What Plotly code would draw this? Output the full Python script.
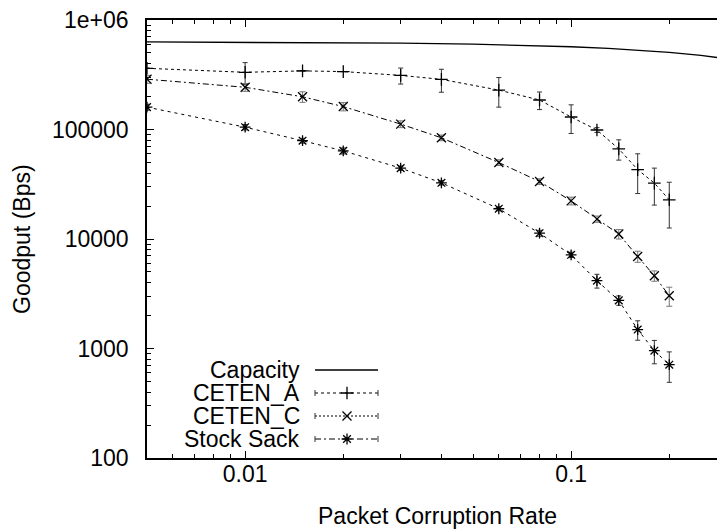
import plotly.graph_objects as go

# ---------------- data ----------------
rates = [0.005, 0.01, 0.015, 0.02, 0.03, 0.04, 0.06, 0.08, 0.1, 0.12, 0.14, 0.16, 0.18, 0.2]

ceten_a = [362000, 333000, 343000, 338000, 312000, 287000, 229000, 186000, 130000, 99000, 66500, 43000, 32400, 22800]
ceten_a_err = [0, 75000, 0, 0, 52000, 68000, 69000, 34000, 38000, 5000, 14000, 17000, 12000, 10200]

ceten_c = [288000, 243000, 199000, 162000, 112000, 84000, 49900, 33500, 22300, 15200, 11100, 6930, 4610, 3030]
ceten_c_err = [24000, 20000, 22000, 14000, 8000, 5000, 3000, 2000, 1800, 1000, 1100, 800, 500, 600]

stock_sack = [160000, 105000, 79000, 63800, 44400, 32600, 18900, 11300, 7170, 4160, 2750, 1490, 955, 711]
stock_sack_err = [10000, 6000, 4000, 4000, 2000, 1500, 800, 700, 400, 600, 270, 300, 230, 220]

capacity_x = [0.005, 0.01, 0.02, 0.03, 0.05, 0.07, 0.1, 0.13, 0.16, 0.2, 0.25, 0.3]
capacity_y = [630000, 627000, 620000, 614000, 601000, 589000, 570000, 551000, 532000, 506000, 475000, 443000]

legend_names = ["Capacity", "CETEN_A", "CETEN_C", "Stock Sack"]

# minor tick positions (log axes: 2..9 within each decade)
x_minor_ticks = [0.005, 0.006, 0.007, 0.008, 0.009,
                 0.02, 0.03, 0.04, 0.05, 0.06, 0.07, 0.08, 0.09,
                 0.2, 0.3]
y_minor_ticks = [200, 300, 400, 500, 600, 700, 800, 900,
                 2000, 3000, 4000, 5000, 6000, 7000, 8000, 9000,
                 20000, 30000, 40000, 50000, 60000, 70000, 80000, 90000,
                 200000, 300000, 400000, 500000, 600000, 700000, 800000, 900000]

# ---------------- style ----------------
FONT = "Liberation Sans, Arial, Helvetica, sans-serif"
FS = 23
BLACK = "black"
ERRC = "#333333"

fig = go.Figure()

fig.add_trace(go.Scatter(
    x=capacity_x, y=capacity_y, mode="lines",
    line=dict(color=BLACK, width=1.3), showlegend=False, hoverinfo="skip"))

fig.add_trace(go.Scatter(
    x=rates, y=ceten_a, mode="lines+markers",
    line=dict(color=BLACK, width=1, dash="3px,3px"),
    marker=dict(symbol="cross-thin", size=9, line=dict(color=BLACK, width=1.3)),
    error_y=dict(type="data", array=ceten_a_err, color=ERRC, thickness=1, width=2.5),
    showlegend=False))

fig.add_trace(go.Scatter(
    x=rates, y=ceten_c, mode="lines+markers",
    line=dict(color=BLACK, width=1, dash="6px,3px,2px,3px"),
    marker=dict(symbol="x-thin", size=9, line=dict(color=BLACK, width=1.3)),
    error_y=dict(type="data", array=ceten_c_err, color="#777777", thickness=1, width=3),
    showlegend=False))

fig.add_trace(go.Scatter(
    x=rates, y=stock_sack, mode="lines+markers",
    line=dict(color=BLACK, width=1, dash="3px,4px"),
    marker=dict(symbol="asterisk", size=9, line=dict(color=BLACK, width=1.3)),
    error_y=dict(type="data", array=stock_sack_err, color=ERRC, thickness=1, width=2.5),
    showlegend=False))

# ---------------- manual legend (text left, sample right) on a pixel overlay axis ----------------
L, T, B = 147, 20, 458
W, H = 717, 531
rows = [370, 393, 416, 439]
text_right = 301
s0, s1, smid = 315, 378, 347
sample_dash = [None, "3px,3px", "2px,2px", "6px,3px,2px,3px"]
sample_sym = [None, "cross-thin", "x-thin", "asterisk"]

for i, name in enumerate(legend_names):
    fig.add_annotation(xref="x2", yref="y2", x=text_right, y=rows[i], text=name,
                       showarrow=False, xanchor="right", yanchor="middle", borderpad=0,
                       font=dict(family=FONT, size=FS, color=BLACK))
    fig.add_shape(type="line", xref="x2", yref="y2", x0=s0, x1=s1, y0=rows[i], y1=rows[i],
                  line=dict(color=BLACK, width=1.3 if i == 0 else 1,
                            dash="solid" if i == 0 else sample_dash[i]))
    if i > 0:
        for xe in (s0, s1):
            fig.add_shape(type="line", xref="x2", yref="y2", x0=xe, x1=xe,
                          y0=rows[i] - 3, y1=rows[i] + 3, line=dict(color=ERRC, width=1))
        fig.add_trace(go.Scatter(x=[smid], y=[rows[i]], xaxis="x2", yaxis="y2", mode="markers",
                                 marker=dict(symbol=sample_sym[i], size=9,
                                             line=dict(color=BLACK, width=1.3)),
                                 showlegend=False, hoverinfo="skip"))

def axis_common(minor_vals):
    return dict(
        showgrid=False, zeroline=False, showline=True, linecolor=BLACK, linewidth=1.5,
        ticks="inside", ticklen=7, tickwidth=1, tickcolor=BLACK,
        tickfont=dict(family=FONT, size=FS, color=BLACK),
        minor=dict(tickmode="array", tickvals=minor_vals, ticks="inside", ticklen=4,
                   tickwidth=1, tickcolor=BLACK, showgrid=False),
    )

fig.update_layout(
    width=W, height=H,
    margin=dict(l=L, r=0, t=T, b=H - B),
    paper_bgcolor="white", plot_bgcolor="white",
    xaxis=dict(type="log", range=[-2.30103, -0.55256], dtick=1, tickformat="~g",
               mirror="ticks", ticklabelstandoff=-5, **axis_common(x_minor_ticks)),
    yaxis=dict(type="log", range=[2, 6], dtick=1, tickformat="d",
               labelalias={"1000000": "1e+06"},
               mirror=False, ticklabelstandoff=12, **axis_common(y_minor_ticks)),
    xaxis2=dict(overlaying="x", range=[L, W], visible=False, fixedrange=True),
    yaxis2=dict(overlaying="y", range=[B, T], visible=False, fixedrange=True),
    showlegend=False,
)

fig.add_annotation(xref="paper", yref="paper", x=(437 - L) / (W - L), y=0, yshift=-58,
                   text="Packet Corruption Rate", showarrow=False,
                   xanchor="center", yanchor="middle",
                   font=dict(family=FONT, size=FS, color=BLACK))
fig.add_annotation(xref="paper", yref="paper", x=0, y=0.5, xshift=-(L - 22),
                   text="Goodput (Bps)", textangle=-90, showarrow=False,
                   xanchor="center", yanchor="middle",
                   font=dict(family=FONT, size=FS, color=BLACK))

fig.write_html("out.html")
